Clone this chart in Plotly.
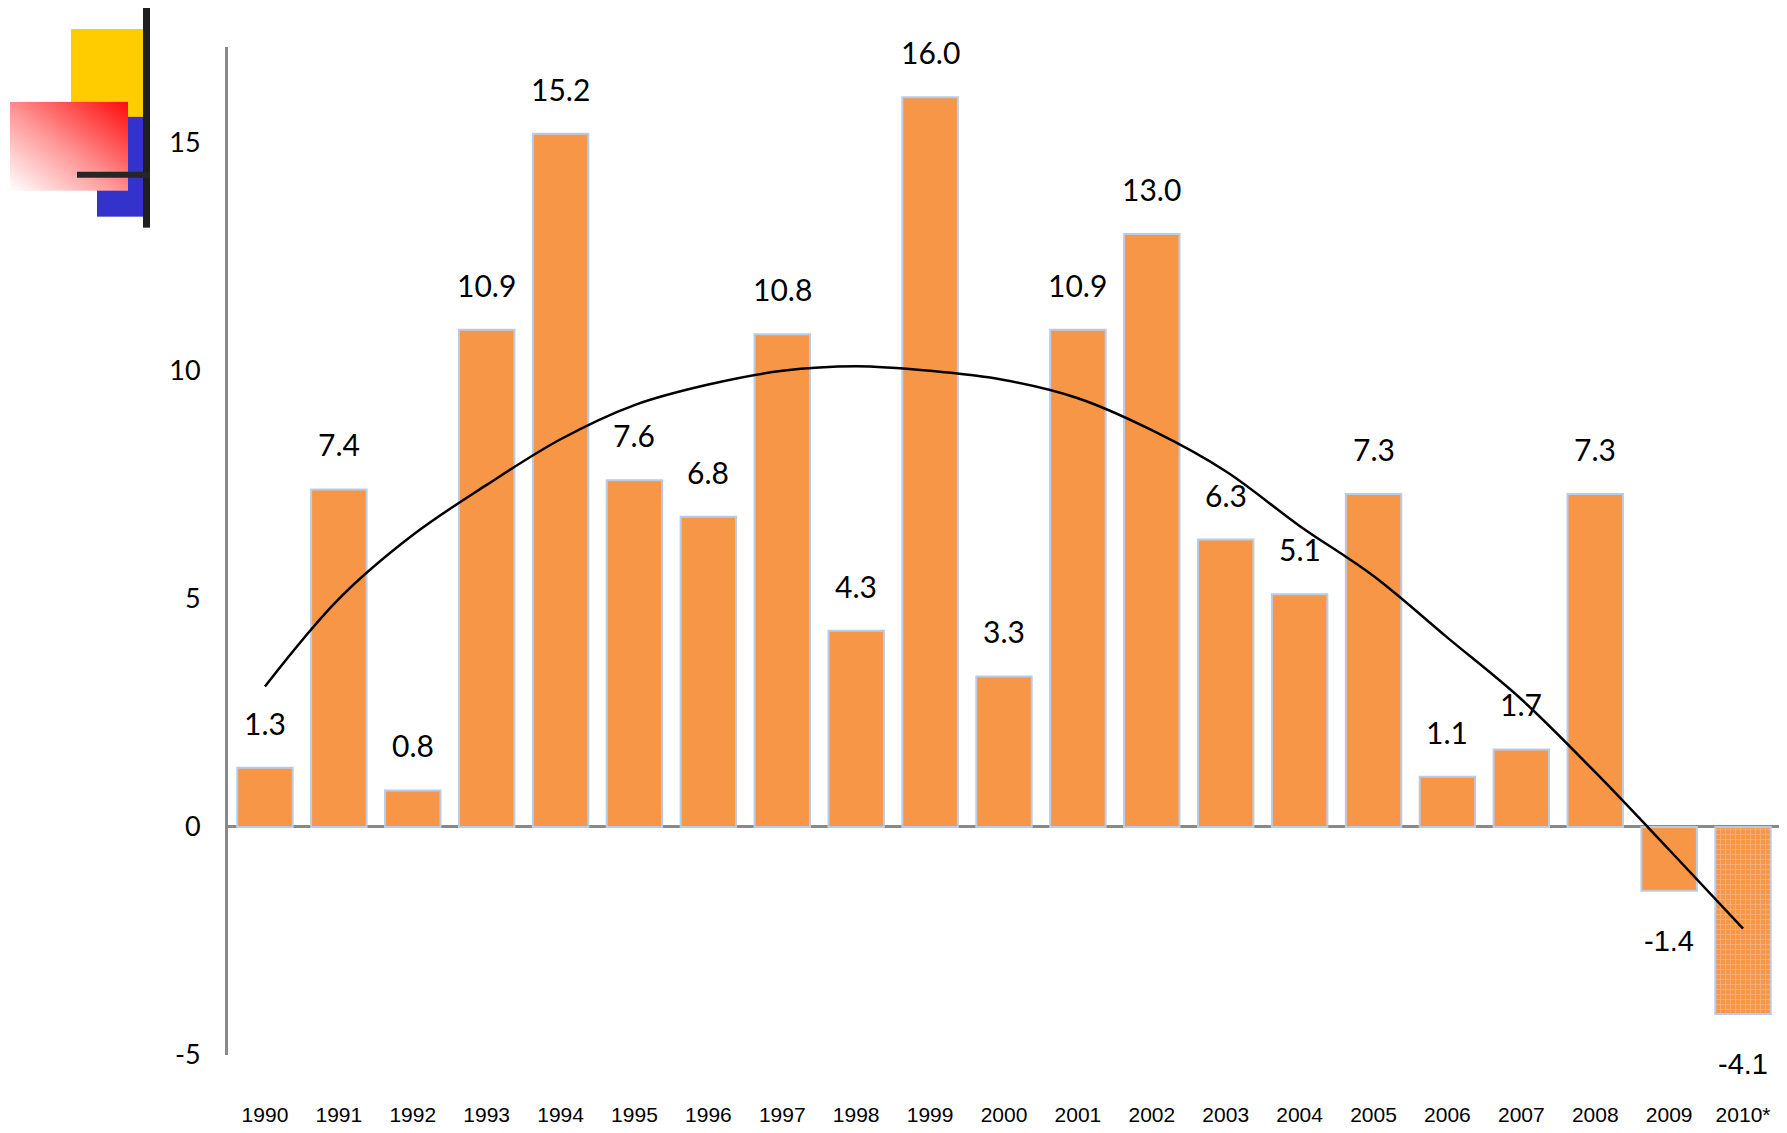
import base64
import plotly.graph_objects as go

years = ["1990", "1991", "1992", "1993", "1994", "1995", "1996", "1997", "1998", "1999",
         "2000", "2001", "2002", "2003", "2004", "2005", "2006", "2007", "2008", "2009", "2010*"]
growth = [1.3, 7.4, 0.8, 10.9, 15.2, 7.6, 6.8, 10.8, 4.3, 16.0,
          3.3, 10.9, 13.0, 6.3, 5.1, 7.3, 1.1, 1.7, 7.3, -1.4, -4.1]
# polynomial trend line
trend = [3.08, 5.0, 6.4, 7.5, 8.5, 9.25, 9.7, 10.0, 10.1, 10.0,
         9.8, 9.4, 8.7, 7.8, 6.6, 5.5, 4.15, 2.8, 1.2, -0.5, -2.23]
y_ticks = [-5, 0, 5, 10, 15]

# the page body adds an 8px offset, so the figure is sized to fit inside the window
W, H = 1779, 1125
ML, MR, MT, MB = 220, 7, 39, 76
PW, PH = W - ML - MR, H - MT - MB

ORANGE = "#F79646"
GRAY = "#898989"
HUMANIST = "Lato, Open Sans, sans-serif"
ARIALISH = "Liberation Sans, Arial, sans-serif"

fig = go.Figure()

fig.add_trace(
    go.Bar(
        x=years,
        y=growth,
        marker=dict(
            color=ORANGE,
            line=dict(color="#B8CCE8", width=2),
            pattern=dict(
                shape=["" for _ in years[:-1]] + ["+"],
                fgcolor="#FCC49A",
                bgcolor=ORANGE,
                size=5,
                solidity=0.35,
            ),
        ),
        showlegend=False,
    )
)

fig.add_trace(
    go.Scatter(
        x=years,
        y=trend,
        mode="lines",
        line=dict(color="black", width=2.5, shape="spline", smoothing=1.0),
        showlegend=False,
    )
)

for i, v in enumerate(growth):
    if v >= 0:
        font = dict(family=HUMANIST, size=30, color="black")
        shift = 45
    else:
        font = dict(family=ARIALISH, size=29, color="black")
        shift = -50
    fig.add_annotation(
        x=i,
        y=v,
        text=f"{v:.1f}",
        showarrow=False,
        yanchor="middle",
        yshift=shift,
        font=font,
    )

# decorative template logo in the top-left corner (pixel offsets relative to the page)
svg = """<svg xmlns='http://www.w3.org/2000/svg' width='152' height='230' viewBox='0 0 152 230'>
<defs><linearGradient id='g' x1='1' y1='0' x2='0' y2='1'>
<stop offset='0' stop-color='#FF0a0a'/><stop offset='0.55' stop-color='#FF9a9a'/>
<stop offset='1' stop-color='#FFFFFF'/></linearGradient></defs>
<rect x='71' y='29' width='72' height='90' fill='#FFCC00'/>
<rect x='97' y='117' width='46' height='100' fill='#3333CC'/>
<rect x='10' y='102' width='118' height='89' fill='url(#g)'/>
<rect x='143' y='6' width='7' height='222' fill='#1F1F1F'/>
<rect x='77' y='172' width='73' height='6' fill='#262626'/>
</svg>"""
src = "data:image/svg+xml;base64," + base64.b64encode(svg.encode()).decode()
fig.add_layout_image(
    dict(
        source=src,
        xref="paper",
        yref="paper",
        x=-(ML + 8) / PW,
        y=1 + (MT + 8) / PH,
        sizex=152 / PW,
        sizey=230 / PH,
        xanchor="left",
        yanchor="top",
        sizing="stretch",
        layer="above",
    )
)

fig.update_layout(
    width=W,
    height=H,
    autosize=False,
    margin=dict(l=ML, r=MR, t=MT, b=MB),
    plot_bgcolor="white",
    paper_bgcolor="white",
    bargap=0.25,
    xaxis=dict(
        type="category",
        range=[-0.5, len(years) - 0.5],
        showgrid=False,
        showline=False,
        ticks="",
        tickfont=dict(family=ARIALISH, size=21, color="black"),
        ticklabelstandoff=45,
    ),
    yaxis=dict(
        range=[-5, 17.1],
        tickvals=y_ticks,
        ticktext=[str(t) for t in y_ticks],
        showgrid=False,
        showline=True,
        linecolor=GRAY,
        linewidth=3,
        zeroline=True,
        zerolinecolor=GRAY,
        zerolinewidth=3,
        ticks="",
        tickfont=dict(family=HUMANIST, size=27, color="black"),
        ticklabelstandoff=19,
    ),
)

fig.write_html("out.html")
